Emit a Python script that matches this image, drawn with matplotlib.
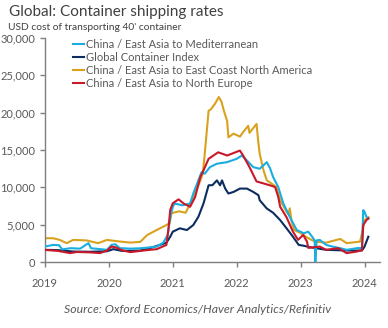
import matplotlib.pyplot as plt
from matplotlib.ticker import FuncFormatter

plt.rcParams["font.family"] = ["Lato", "DejaVu Sans"]

# fractional years / USD per 40' container
med_x = [2019.0, 2019.13, 2019.22, 2019.27, 2019.4, 2019.55, 2019.68, 2019.72, 2019.85, 2019.97,
         2020.04, 2020.1, 2020.17, 2020.35, 2020.49, 2020.62, 2020.75, 2020.85, 2020.92, 2020.96,
         2021.0, 2021.03, 2021.15, 2021.27, 2021.32, 2021.4, 2021.45, 2021.5, 2021.58, 2021.69,
         2021.85, 2022.0, 2022.08, 2022.16, 2022.26, 2022.36, 2022.47, 2022.52, 2022.57, 2022.65,
         2022.73, 2022.83, 2022.94, 2023.05, 2023.12, 2023.18, 2023.22, 2023.23, 2023.25, 2023.3,
         2023.4, 2023.5, 2023.62, 2023.72, 2023.88, 2023.96, 2023.98, 2024.0, 2024.03, 2024.06]
med_y = [2080, 2300, 2250, 1700, 1860, 1800, 2530, 1850, 1750, 1640,
         2300, 2390, 1860, 1800, 1850, 1950, 2080, 2600, 3600, 6000,
         7400, 7840, 7600, 7840, 9180, 10940, 12050, 11840, 12710, 13170,
         13380, 13830, 14270, 13600, 12710, 12500, 13380, 12600, 11380, 10050,
         7840, 6060, 4290, 3860, 4070, 3400, 2900, 0, 2900, 2970,
         2300, 2070, 1860, 1640, 1860, 1900, 6950, 6730, 6060, 5800]

gci_x = [2019.0, 2019.2, 2019.44, 2019.7, 2019.97, 2020.07, 2020.2, 2020.49, 2020.64, 2020.8,
         2020.9, 2020.96, 2021.0, 2021.11, 2021.22, 2021.32, 2021.4, 2021.48, 2021.56, 2021.62,
         2021.69, 2021.74, 2021.77, 2021.82, 2021.87, 2021.95, 2022.05, 2022.16, 2022.26, 2022.34,
         2022.36, 2022.47, 2022.57, 2022.68, 2022.78, 2022.88, 2022.97, 2023.04, 2023.15, 2023.4,
         2023.72, 2023.96, 2024.0, 2024.06]
gci_y = [1640, 1600, 1410, 1380, 1450, 1730, 1500, 1540, 1860, 2300,
         2600, 3400, 4070, 4520, 4290, 4960, 6060, 7840, 10280, 10300,
         10940, 10280, 10940, 9840, 9180, 9390, 9840, 9840, 9390, 8950,
         8280, 7180, 6600, 5620, 4520, 3400, 2300, 2200, 1990, 1640,
         1550, 1550, 2070, 3400]

usec_x = [2019.0, 2019.13, 2019.23, 2019.34, 2019.44, 2019.65, 2019.83, 2019.97, 2020.12, 2020.33,
          2020.49, 2020.6, 2020.75, 2020.9, 2020.95, 2020.98, 2021.1, 2021.2, 2021.3, 2021.43,
          2021.47, 2021.5, 2021.56, 2021.6, 2021.66, 2021.72, 2021.76, 2021.8, 2021.85, 2021.87,
          2021.95, 2022.05, 2022.1, 2022.18, 2022.2, 2022.31, 2022.34, 2022.36, 2022.42, 2022.47,
          2022.54, 2022.62, 2022.68, 2022.78, 2022.81, 2022.83, 2022.86, 2022.9, 2023.0, 2023.1,
          2023.22, 2023.4, 2023.62, 2023.72, 2023.93, 2023.96, 2024.0, 2024.06]
usec_y = [3200, 3190, 2970, 2530, 2970, 2900, 2530, 2970, 2800, 2610,
          2700, 3630, 4300, 4960, 5200, 6550, 6800, 6600, 8280, 10900,
          11870, 14530, 20250, 20500, 21200, 22100, 21500, 20250, 18900, 16700,
          17200, 16800, 17400, 18250, 17300, 18500, 15900, 14500, 12270, 10950,
          10540, 10050, 8280, 6730, 6400, 7200, 5400, 4290, 3890, 3300,
          2740, 2600, 3100, 2530, 2740, 3860, 5600, 6000]

neu_x = [2019.0, 2019.2, 2019.39, 2019.5, 2019.7, 2019.86, 2019.97, 2020.04, 2020.1, 2020.2,
         2020.33, 2020.5, 2020.6, 2020.75, 2020.9, 2020.93, 2020.96, 2021.0, 2021.09, 2021.17,
         2021.27, 2021.35, 2021.43, 2021.48, 2021.56, 2021.71, 2021.85, 2022.05, 2022.1, 2022.2,
         2022.31, 2022.52, 2022.6, 2022.65, 2022.68, 2022.78, 2022.88, 2022.96, 2023.04, 2023.1,
         2023.12, 2023.3, 2023.4, 2023.59, 2023.72, 2023.88, 2023.96, 2023.98, 2024.03, 2024.06]
neu_y = [1630, 1500, 1200, 1350, 1300, 1200, 1540, 2070, 1990, 1600,
         1330, 1500, 1600, 1730, 2300, 4300, 7000, 7880, 8400, 7840,
         7400, 8720, 11380, 12270, 13830, 14700, 14270, 14930, 14270, 12710,
         10800, 10280, 10050, 8720, 7400, 6000, 4070, 2970, 3630, 2740,
         1900, 2070, 1640, 1860, 1200, 1410, 1600, 4960, 5620, 5850]

years = [2019, 2020, 2021, 2022, 2023, 2024]
grey = "#595959"

fig = plt.figure(figsize=(3.88, 3.28), dpi=100)
ax = fig.add_axes([0.116, 0.201, 0.863, 0.683])

ax.plot(med_x, med_y, color="#1aaee0", lw=1.5, zorder=3, label="China / East Asia to Mediterranean")
ax.plot(gci_x, gci_y, color="#0b2d60", lw=1.5, zorder=2, label="Global Container Index")
ax.plot(usec_x, usec_y, color="#d9a21e", lw=1.5, zorder=2, label="China / East Asia to East Coast North America")
ax.plot(neu_x, neu_y, color="#c8182a", lw=1.5, zorder=4, label="China / East Asia to North Europe")

ax.set_xlim(2019, 2024.24)
ax.set_ylim(0, 30000)
ax.set_xticks(years)
ax.set_xticklabels([str(y) for y in years])
ax.set_yticks(range(0, 30001, 5000))
ax.yaxis.set_major_formatter(FuncFormatter(lambda v, p: f"{int(v):,}"))

for s in ["top", "right"]:
    ax.spines[s].set_visible(False)
for s in ["left", "bottom"]:
    ax.spines[s].set_color("#7f7f7f")
    ax.spines[s].set_linewidth(1.0)
ax.tick_params(axis="both", colors="#7f7f7f", labelcolor=grey, labelsize=8, length=3.5, width=1.0)
ax.tick_params(axis="x", pad=8)

leg = ax.legend(loc="upper left", bbox_to_anchor=(0.06, 1.03), frameon=False, fontsize=8,
                handlelength=1.0, handletextpad=0.15, labelspacing=0.18, borderpad=0.2)
for t in leg.get_texts():
    t.set_color(grey)

fig.text(0.022, 0.963, "Global: Container shipping rates", fontsize=11, color="#404040", va="center")
fig.text(0.02, 0.917, "USD cost of transporting 40' container", fontsize=7.4, color="#404040", va="center")
fig.text(0.51, 0.055, "Source: Oxford Economics/Haver Analytics/Refinitiv", fontsize=8.8,
         color=grey, style="italic", ha="center", va="center")

fig.savefig("out.png", dpi=100)
